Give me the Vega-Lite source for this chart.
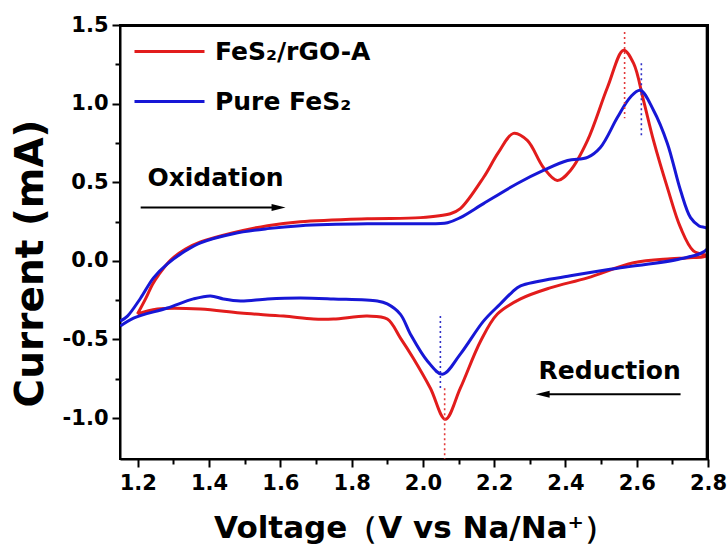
{
  "$schema": "https://vega.github.io/schema/vega-lite/v6.json",
  "width": 588,
  "height": 434,
  "autosize": "none",
  "padding": {"left": 120, "top": 25, "right": 19, "bottom": 92},
  "background": "white",
  "config": {
    "font": "DejaVu Sans",
    "view": {"stroke": "black", "strokeWidth": 2},
    "axis": {
      "grid": false,
      "domainColor": "black",
      "domainWidth": 2,
      "tickColor": "black",
      "tickWidth": 2,
      "labelFont": "DejaVu Sans",
      "labelFontWeight": "bold",
      "labelFontSize": 21,
      "labelColor": "black",
      "titleFont": "DejaVu Sans",
      "titleFontWeight": "bold",
      "titleColor": "black"
    },
    "legend": {
      "padding": 0,
      "symbolType": "stroke",
      "symbolSize": 4900,
      "symbolStrokeWidth": 3,
      "labelFont": "DejaVu Sans",
      "labelFontWeight": "bold",
      "labelFontSize": 25,
      "labelColor": "black",
      "labelOffset": 9,
      "rowPadding": -3,
      "title": null
    }
  },
  "datasets": {
    "cv": [
      {"sample": "FeS₂/rGO-A", "k": 0, "v": 1.199, "i": -0.338},
      {"sample": "FeS₂/rGO-A", "k": 1, "v": 1.222, "i": -0.24},
      {"sample": "FeS₂/rGO-A", "k": 2, "v": 1.241, "i": -0.15},
      {"sample": "FeS₂/rGO-A", "k": 3, "v": 1.258, "i": -0.09},
      {"sample": "FeS₂/rGO-A", "k": 4, "v": 1.292, "i": 0.005},
      {"sample": "FeS₂/rGO-A", "k": 5, "v": 1.334, "i": 0.075},
      {"sample": "FeS₂/rGO-A", "k": 6, "v": 1.376, "i": 0.12},
      {"sample": "FeS₂/rGO-A", "k": 7, "v": 1.468, "i": 0.179},
      {"sample": "FeS₂/rGO-A", "k": 8, "v": 1.564, "i": 0.224},
      {"sample": "FeS₂/rGO-A", "k": 9, "v": 1.656, "i": 0.249},
      {"sample": "FeS₂/rGO-A", "k": 10, "v": 1.844, "i": 0.268},
      {"sample": "FeS₂/rGO-A", "k": 11, "v": 1.993, "i": 0.275},
      {"sample": "FeS₂/rGO-A", "k": 12, "v": 2.077, "i": 0.3},
      {"sample": "FeS₂/rGO-A", "k": 13, "v": 2.105, "i": 0.332},
      {"sample": "FeS₂/rGO-A", "k": 14, "v": 2.17, "i": 0.53},
      {"sample": "FeS₂/rGO-A", "k": 15, "v": 2.212, "i": 0.69},
      {"sample": "FeS₂/rGO-A", "k": 16, "v": 2.254, "i": 0.811},
      {"sample": "FeS₂/rGO-A", "k": 17, "v": 2.293, "i": 0.766},
      {"sample": "FeS₂/rGO-A", "k": 18, "v": 2.338, "i": 0.594},
      {"sample": "FeS₂/rGO-A", "k": 19, "v": 2.377, "i": 0.511},
      {"sample": "FeS₂/rGO-A", "k": 20, "v": 2.414, "i": 0.575},
      {"sample": "FeS₂/rGO-A", "k": 21, "v": 2.462, "i": 0.766},
      {"sample": "FeS₂/rGO-A", "k": 22, "v": 2.518, "i": 1.104},
      {"sample": "FeS₂/rGO-A", "k": 23, "v": 2.563, "i": 1.34},
      {"sample": "FeS₂/rGO-A", "k": 24, "v": 2.591, "i": 1.257},
      {"sample": "FeS₂/rGO-A", "k": 25, "v": 2.619, "i": 1.021},
      {"sample": "FeS₂/rGO-A", "k": 26, "v": 2.647, "i": 0.766},
      {"sample": "FeS₂/rGO-A", "k": 27, "v": 2.686, "i": 0.466},
      {"sample": "FeS₂/rGO-A", "k": 28, "v": 2.723, "i": 0.211},
      {"sample": "FeS₂/rGO-A", "k": 29, "v": 2.759, "i": 0.064},
      {"sample": "FeS₂/rGO-A", "k": 30, "v": 2.798, "i": 0.032},
      {"sample": "FeS₂/rGO-A", "k": 31, "v": 2.74, "i": 0.019},
      {"sample": "FeS₂/rGO-A", "k": 32, "v": 2.695, "i": 0.013},
      {"sample": "FeS₂/rGO-A", "k": 33, "v": 2.591, "i": -0.012},
      {"sample": "FeS₂/rGO-A", "k": 34, "v": 2.462, "i": -0.108},
      {"sample": "FeS₂/rGO-A", "k": 35, "v": 2.357, "i": -0.172},
      {"sample": "FeS₂/rGO-A", "k": 36, "v": 2.274, "i": -0.242},
      {"sample": "FeS₂/rGO-A", "k": 37, "v": 2.209, "i": -0.338},
      {"sample": "FeS₂/rGO-A", "k": 38, "v": 2.162, "i": -0.51},
      {"sample": "FeS₂/rGO-A", "k": 39, "v": 2.105, "i": -0.81},
      {"sample": "FeS₂/rGO-A", "k": 40, "v": 2.063, "i": -1.008},
      {"sample": "FeS₂/rGO-A", "k": 41, "v": 2.021, "i": -0.81},
      {"sample": "FeS₂/rGO-A", "k": 42, "v": 1.973, "i": -0.619},
      {"sample": "FeS₂/rGO-A", "k": 43, "v": 1.937, "i": -0.491},
      {"sample": "FeS₂/rGO-A", "k": 44, "v": 1.9, "i": -0.37},
      {"sample": "FeS₂/rGO-A", "k": 45, "v": 1.844, "i": -0.351},
      {"sample": "FeS₂/rGO-A", "k": 46, "v": 1.749, "i": -0.37},
      {"sample": "FeS₂/rGO-A", "k": 47, "v": 1.693, "i": -0.37},
      {"sample": "FeS₂/rGO-A", "k": 48, "v": 1.609, "i": -0.351},
      {"sample": "FeS₂/rGO-A", "k": 49, "v": 1.488, "i": -0.332},
      {"sample": "FeS₂/rGO-A", "k": 50, "v": 1.376, "i": -0.306},
      {"sample": "FeS₂/rGO-A", "k": 51, "v": 1.255, "i": -0.306},
      {"sample": "FeS₂/rGO-A", "k": 52, "v": 1.199, "i": -0.338},
      {"sample": "Pure FeS₂", "k": 0, "v": 1.151, "i": -0.383},
      {"sample": "Pure FeS₂", "k": 1, "v": 1.171, "i": -0.351},
      {"sample": "Pure FeS₂", "k": 2, "v": 1.208, "i": -0.236},
      {"sample": "Pure FeS₂", "k": 3, "v": 1.244, "i": -0.108},
      {"sample": "Pure FeS₂", "k": 4, "v": 1.283, "i": -0.019},
      {"sample": "Pure FeS₂", "k": 5, "v": 1.334, "i": 0.064},
      {"sample": "Pure FeS₂", "k": 6, "v": 1.376, "i": 0.115},
      {"sample": "Pure FeS₂", "k": 7, "v": 1.468, "i": 0.173},
      {"sample": "Pure FeS₂", "k": 8, "v": 1.564, "i": 0.205},
      {"sample": "Pure FeS₂", "k": 9, "v": 1.656, "i": 0.224},
      {"sample": "Pure FeS₂", "k": 10, "v": 1.844, "i": 0.236},
      {"sample": "Pure FeS₂", "k": 11, "v": 1.993, "i": 0.236},
      {"sample": "Pure FeS₂", "k": 12, "v": 2.069, "i": 0.243},
      {"sample": "Pure FeS₂", "k": 13, "v": 2.105, "i": 0.275},
      {"sample": "Pure FeS₂", "k": 14, "v": 2.17, "i": 0.364},
      {"sample": "Pure FeS₂", "k": 15, "v": 2.265, "i": 0.492},
      {"sample": "Pure FeS₂", "k": 16, "v": 2.338, "i": 0.575},
      {"sample": "Pure FeS₂", "k": 17, "v": 2.406, "i": 0.638},
      {"sample": "Pure FeS₂", "k": 18, "v": 2.462, "i": 0.658},
      {"sample": "Pure FeS₂", "k": 19, "v": 2.498, "i": 0.721},
      {"sample": "Pure FeS₂", "k": 20, "v": 2.546, "i": 0.913},
      {"sample": "Pure FeS₂", "k": 21, "v": 2.582, "i": 1.041},
      {"sample": "Pure FeS₂", "k": 22, "v": 2.61, "i": 1.085},
      {"sample": "Pure FeS₂", "k": 23, "v": 2.647, "i": 0.958},
      {"sample": "Pure FeS₂", "k": 24, "v": 2.686, "i": 0.747},
      {"sample": "Pure FeS₂", "k": 25, "v": 2.723, "i": 0.447},
      {"sample": "Pure FeS₂", "k": 26, "v": 2.751, "i": 0.275},
      {"sample": "Pure FeS₂", "k": 27, "v": 2.775, "i": 0.222},
      {"sample": "Pure FeS₂", "k": 28, "v": 2.798, "i": 0.205},
      {"sample": "Pure FeS₂", "k": 29, "v": 2.798, "i": 0.077},
      {"sample": "Pure FeS₂", "k": 30, "v": 2.723, "i": 0.013},
      {"sample": "Pure FeS₂", "k": 31, "v": 2.554, "i": -0.044},
      {"sample": "Pure FeS₂", "k": 32, "v": 2.414, "i": -0.095},
      {"sample": "Pure FeS₂", "k": 33, "v": 2.274, "i": -0.159},
      {"sample": "Pure FeS₂", "k": 34, "v": 2.25, "i": -0.2},
      {"sample": "Pure FeS₂", "k": 35, "v": 2.217, "i": -0.274},
      {"sample": "Pure FeS₂", "k": 36, "v": 2.17, "i": -0.383},
      {"sample": "Pure FeS₂", "k": 37, "v": 2.105, "i": -0.593},
      {"sample": "Pure FeS₂", "k": 38, "v": 2.055, "i": -0.721},
      {"sample": "Pure FeS₂", "k": 39, "v": 2.013, "i": -0.638},
      {"sample": "Pure FeS₂", "k": 40, "v": 1.965, "i": -0.466},
      {"sample": "Pure FeS₂", "k": 41, "v": 1.937, "i": -0.34},
      {"sample": "Pure FeS₂", "k": 42, "v": 1.9, "i": -0.274},
      {"sample": "Pure FeS₂", "k": 43, "v": 1.872, "i": -0.255},
      {"sample": "Pure FeS₂", "k": 44, "v": 1.749, "i": -0.242},
      {"sample": "Pure FeS₂", "k": 45, "v": 1.656, "i": -0.236},
      {"sample": "Pure FeS₂", "k": 46, "v": 1.564, "i": -0.242},
      {"sample": "Pure FeS₂", "k": 47, "v": 1.488, "i": -0.255},
      {"sample": "Pure FeS₂", "k": 48, "v": 1.44, "i": -0.242},
      {"sample": "Pure FeS₂", "k": 49, "v": 1.404, "i": -0.223},
      {"sample": "Pure FeS₂", "k": 50, "v": 1.356, "i": -0.242},
      {"sample": "Pure FeS₂", "k": 51, "v": 1.283, "i": -0.3},
      {"sample": "Pure FeS₂", "k": 52, "v": 1.188, "i": -0.364},
      {"sample": "Pure FeS₂", "k": 53, "v": 1.151, "i": -0.415}
    ],
    "peaks": [
      {"sample": "FeS₂/rGO-A", "v": 2.566, "top": 1.455, "bottom": 0.907},
      {"sample": "Pure FeS₂", "v": 2.613, "top": 1.257, "bottom": 0.785},
      {"sample": "Pure FeS₂", "v": 2.049, "top": -0.351, "bottom": -0.81},
      {"sample": "FeS₂/rGO-A", "v": 2.061, "top": -0.81, "bottom": -1.26}
    ],
    "notes": [
      {"label": "Oxidation", "v": 1.418, "i": 0.524},
      {"label": "Reduction", "v": 2.524, "i": -0.7}
    ],
    "arrows": [
      {"dir": "right", "v": 1.208, "v2": 1.595, "i": 0.339},
      {"dir": "left", "v": 2.723, "v2": 2.336, "i": -0.848}
    ],
    "border": [
      {"side": "top", "v": 1.15, "v2": 2.797, "i": 1.495},
      {"side": "right", "v": 2.797, "i": -1.26, "i2": 1.495}
    ]
  },
  "layer": [
    {
      "data": {"name": "cv"},
      "mark": {"type": "line", "interpolate": "catmull-rom", "strokeWidth": 3, "clip": true},
      "encoding": {
        "x": {
          "field": "v",
          "type": "quantitative",
          "scale": {"domain": [1.15, 2.8], "nice": false, "zero": false},
          "axis": {
            "orient": "bottom",
            "values": [1.2, 1.4, 1.6, 1.8, 2.0, 2.2, 2.4, 2.6, 2.8],
            "format": ".1f",
            "tickSize": 8,
            "labelPadding": 5,
            "labelFlush": false,
            "title": "Voltage（V vs Na/Na⁺）",
            "titleFontSize": 31,
            "titlePadding": 20
          }
        },
        "y": {
          "field": "i",
          "type": "quantitative",
          "scale": {"domain": [-1.26, 1.5], "nice": false, "zero": false},
          "axis": {
            "orient": "left",
            "values": [-1.0, -0.5, 0.0, 0.5, 1.0, 1.5],
            "labelExpr": "datum.value < 0 ? '-' + format(-datum.value, '.1f') : format(datum.value, '.1f')",
            "tickSize": 8,
            "labelPadding": 4,
            "labelFlush": false,
            "title": "Current (mA)",
            "titleFontSize": 39,
            "titlePadding": 12,
            "titleY": 238
          }
        },
        "color": {
          "field": "sample",
          "type": "nominal",
          "scale": {"domain": ["FeS₂/rGO-A", "Pure FeS₂"], "range": ["#e21c1c", "#1717d6"]},
          "legend": {"orient": "none", "legendX": 13, "legendY": -10}
        },
        "order": {"field": "k", "type": "quantitative"}
      }
    },
    {
      "data": {"name": "peaks"},
      "mark": {"type": "rule", "strokeWidth": 1.6, "strokeDash": [2, 3]},
      "encoding": {
        "x": {
          "field": "v",
          "type": "quantitative",
          "axis": {
            "orient": "bottom",
            "values": [1.3, 1.5, 1.7, 1.9, 2.1, 2.3, 2.5, 2.7],
            "labels": false,
            "domain": false,
            "tickSize": 5,
            "title": null
          }
        },
        "y": {
          "field": "top",
          "type": "quantitative",
          "axis": {
            "orient": "left",
            "values": [-0.75, -0.25, 0.25, 0.75, 1.25],
            "labels": false,
            "domain": false,
            "tickSize": 5,
            "title": null
          }
        },
        "y2": {"field": "bottom"},
        "stroke": {
          "field": "sample",
          "type": "nominal",
          "scale": {"domain": ["FeS₂/rGO-A", "Pure FeS₂"], "range": ["#e23a3a", "#3030c8"]},
          "legend": null
        }
      }
    },
    {
      "data": {"name": "notes"},
      "mark": {"type": "text", "font": "DejaVu Sans", "fontWeight": "bold", "fontSize": 25, "align": "center", "baseline": "middle", "color": "black"},
      "encoding": {
        "x": {"field": "v", "type": "quantitative", "axis": null},
        "y": {"field": "i", "type": "quantitative", "axis": null},
        "text": {"field": "label"}
      }
    },
    {
      "data": {"name": "arrows"},
      "mark": {"type": "rule", "strokeWidth": 2, "color": "black"},
      "encoding": {
        "x": {"field": "v", "type": "quantitative", "axis": null},
        "x2": {"field": "v2"},
        "y": {"field": "i", "type": "quantitative", "axis": null}
      }
    },
    {
      "data": {"name": "border"},
      "transform": [{"filter": "datum.side == 'top'"}],
      "mark": {"type": "rule", "strokeWidth": 2.5, "color": "black"},
      "encoding": {
        "x": {"field": "v", "type": "quantitative", "axis": null},
        "x2": {"field": "v2"},
        "y": {"field": "i", "type": "quantitative", "axis": null}
      }
    },
    {
      "data": {"name": "border"},
      "transform": [{"filter": "datum.side == 'right'"}],
      "mark": {"type": "rule", "strokeWidth": 2.5, "color": "black"},
      "encoding": {
        "x": {"field": "v", "type": "quantitative", "axis": null},
        "y": {"field": "i", "type": "quantitative", "axis": null},
        "y2": {"field": "i2"}
      }
    },
    {
      "data": {"name": "arrows"},
      "mark": {"type": "point", "filled": true, "opacity": 1, "color": "black", "size": 196},
      "encoding": {
        "x": {"field": "v2", "type": "quantitative", "axis": null},
        "y": {"field": "i", "type": "quantitative", "axis": null},
        "shape": {
          "field": "dir",
          "type": "nominal",
          "scale": {"domain": ["right", "left"], "range": ["M-1,-0.5L1,0L-1,0.5Z", "M1,-0.5L-1,0L1,0.5Z"]},
          "legend": null
        }
      }
    }
  ],
  "resolve": {"axis": {"x": "independent", "y": "independent"}}
}
